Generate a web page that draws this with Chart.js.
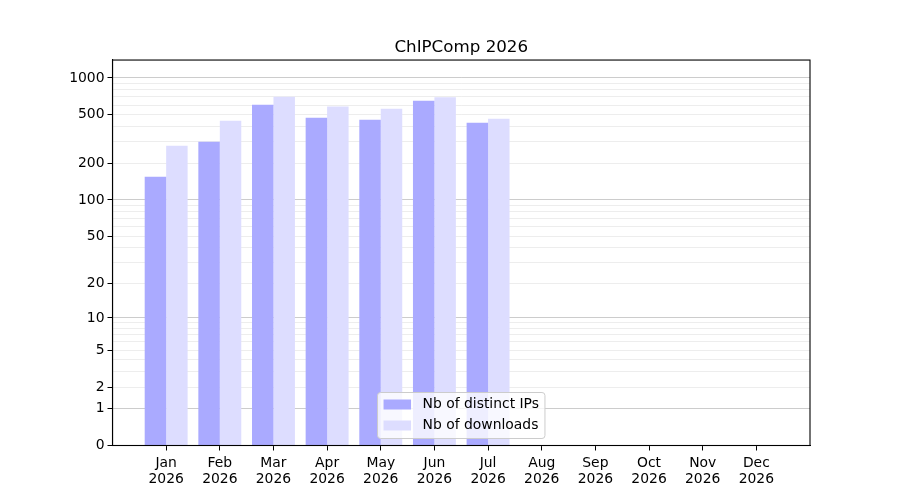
<!DOCTYPE html>
<html>
<head>
<meta charset="utf-8">
<title>ChIPComp 2026</title>
<script src="https://cdn.jsdelivr.net/npm/chart.js@4.4.1/dist/chart.umd.min.js"></script>
<style>
  html, body { margin: 0; padding: 0; background: #fff; }
  #wrap { width: 900px; height: 500px; position: relative; }
</style>
</head>
<body>
<div id="wrap"><canvas id="chart"></canvas></div>
<script>
// data
const months = ['Jan', 'Feb', 'Mar', 'Apr', 'May', 'Jun', 'Jul', 'Aug', 'Sep', 'Oct', 'Nov', 'Dec'];
const year = '2026';
const distinctIPs = [155, 301, 605, 473, 456, 652, 430];
const downloads = [279, 447, 703, 583, 561, 694, 464];
const yLabelTicks = [0, 1, 2, 5, 10, 20, 50, 100, 200, 500, 1000];
const yMajorTicks = [1, 10, 100, 1000];
const yMinorTicks = [0, 1, 2, 3, 4, 5, 6, 7, 8, 9, 10, 20, 30, 40, 50, 60, 70, 80, 90,
                     100, 200, 300, 400, 500, 600, 700, 800, 900, 1000];

// y scale using log10(v + 1), like the reference axis
class Log1pScale extends Chart.LinearScale {
  configure() {
    super.configure();
    this._tStart = Math.log10(this.min + 1);
    this._tEnd = Math.log10(this.max + 1);
  }
  buildTicks() {
    return yMinorTicks.map(v => ({ value: v }));
  }
  getPixelForValue(value) {
    const t = (Math.log10(value + 1) - this._tStart) / (this._tEnd - this._tStart);
    return this.getPixelForDecimal(t);
  }
  getValueForPixel(pixel) {
    const t = this.getDecimalForPixel(pixel);
    return Math.pow(10, this._tStart + t * (this._tEnd - this._tStart)) - 1;
  }
}
Log1pScale.id = 'log1p';
Log1pScale.defaults = {};
Chart.register(Log1pScale);

Chart.defaults.font.family = 'DejaVu Sans';
Chart.defaults.font.size = 13.9;
Chart.defaults.color = '#000';

// box around the plot area (top and right sides)
const frame = {
  id: 'frame',
  afterDraw(chart) {
    const { ctx, chartArea: a } = chart;
    ctx.save();
    ctx.strokeStyle = '#000';
    ctx.lineWidth = 1.1;
    ctx.strokeRect(a.left, a.top, a.right - a.left, a.bottom - a.top);
    ctx.restore();
  }
};

// matplotlib-like legend at lower centre of the plot area
const legendBox = {
  id: 'legendBox',
  afterDraw(chart) {
    const { ctx, chartArea: a } = chart;
    const sets = chart.data.datasets;
    ctx.save();
    ctx.font = '13.9px "DejaVu Sans"';
    const textW = Math.max(...sets.map(d => ctx.measureText(d.label).width));
    const w = 45 + textW + 6;
    const h = 46;
    const x = (a.left + a.right) / 2 - w / 2;
    const y = a.bottom - 7 - h;
    ctx.beginPath();
    ctx.roundRect(x, y, w, h, 3);
    ctx.fillStyle = 'rgba(255,255,255,0.8)';
    ctx.fill();
    ctx.strokeStyle = '#cccccc';
    ctx.lineWidth = 1;
    ctx.stroke();
    sets.forEach((d, i) => {
      const cy = y + 12 + i * 21;
      ctx.fillStyle = d.backgroundColor;
      ctx.fillRect(x + 6, cy - 5, 27.5, 10);
      ctx.fillStyle = '#000';
      ctx.textBaseline = 'middle';
      ctx.fillText(d.label, x + 45, cy);
    });
    ctx.restore();
  }
};

new Chart(document.getElementById('chart'), {
  type: 'bar',
  data: {
    datasets: [
      {
        label: 'Nb of distinct IPs',
        data: distinctIPs.map((v, i) => ({ x: i, y: v })),
        backgroundColor: '#aaaaff'
      },
      {
        label: 'Nb of downloads',
        data: downloads.map((v, i) => ({ x: i, y: v })),
        backgroundColor: '#ddddff'
      }
    ]
  },
  options: {
    responsive: true,
    maintainAspectRatio: false,
    animation: false,
    layout: { padding: { left: 0, right: 90, top: 0, bottom: 0 } },
    datasets: { bar: { categoryPercentage: 0.8, barPercentage: 1.0 } },
    scales: {
      x: {
        type: 'linear',
        min: -1,
        max: 12,
        offset: false,
        afterFit: s => { s.height = 54.5; },
        afterBuildTicks: s => { s.ticks = months.map((m, i) => ({ value: i })); },
        border: { color: '#000', width: 1.1 },
        grid: { offset: false, drawOnChartArea: false, drawTicks: true, tickLength: 5, tickColor: '#000' },
        ticks: {
          autoSkip: false,
          maxRotation: 0,
          padding: 5,
          font: { lineHeight: 1.13 },
          callback: v => [months[v], year]
        }
      },
      y: {
        type: 'log1p',
        min: 0,
        max: 1400,
        z: 1,
        afterFit: s => { s.width = 112.5; },
        border: { color: '#000', width: 1.1 },
        grid: {
          tickLength: 5,
          color: c => c.tick.value === 0 ? 'rgba(0,0,0,0)'
            : yMajorTicks.includes(c.tick.value) ? 'rgba(0,0,0,0.2)' : 'rgba(0,0,0,0.07)',
          tickColor: c => yLabelTicks.includes(c.tick.value) ? '#000' : 'rgba(0,0,0,0)'
        },
        ticks: {
          autoSkip: false,
          padding: 3,
          callback: v => yLabelTicks.includes(v) ? String(v) : ''
        }
      }
    },
    plugins: {
      legend: { display: false },
      tooltip: { enabled: false },
      title: {
        display: true,
        text: 'ChIPComp 2026',
        fullSize: false,
        color: '#000',
        font: { size: 16.7, weight: 'normal', lineHeight: 1.2 },
        padding: { top: 38, bottom: 2 }
      }
    }
  },
  plugins: [frame, legendBox]
});
</script>
</body>
</html>
